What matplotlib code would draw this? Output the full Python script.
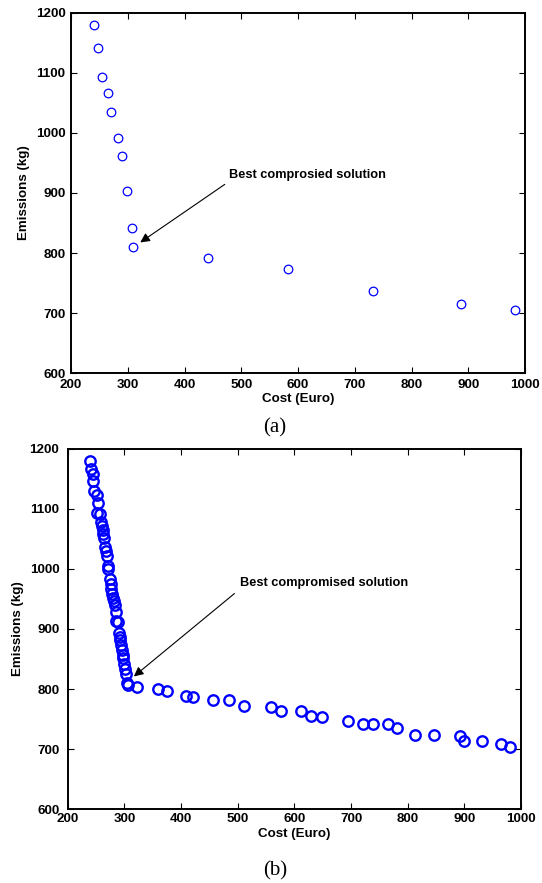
import matplotlib
matplotlib.use("Agg")
import matplotlib.pyplot as plt

# ---------------- data ----------------
cost_a = [241, 248, 255, 265, 270, 282, 289, 299, 307, 309, 442, 582, 733, 888, 982]
emis_a = [1180, 1142, 1094, 1067, 1035, 992, 962, 903, 841, 810, 792, 773, 736, 715, 705]

cost_b = [240, 242, 244, 245, 247, 251, 253, 252, 257, 259, 260, 262, 263, 264, 266,
          267, 269, 271, 272, 275, 276, 277, 278, 280, 282, 284, 285, 285, 288, 291,
          292, 293, 294, 295, 297, 298, 300, 301, 303, 304, 307,
          323, 360, 376, 409, 421, 457, 485, 511, 559, 576, 612, 629, 648, 694,
          721, 738, 765, 782, 813, 846, 892, 900, 932, 964, 980]
emis_b = [1180, 1166, 1159, 1146, 1130, 1123, 1110, 1093, 1091, 1079, 1072, 1065, 1058, 1051, 1036,
          1030, 1022, 1005, 1000, 983, 975, 966, 958, 951, 946, 940, 929, 914, 911, 893,
          887, 881, 873, 865, 857, 851, 842, 833, 825, 810, 807,
          803, 800, 797, 788, 786, 782, 781, 772, 770, 763, 763, 755, 753, 746,
          742, 741, 741, 735, 723, 723, 721, 714, 713, 709, 703]

x_ticks = [200, 300, 400, 500, 600, 700, 800, 900, 1000]
y_ticks = [600, 700, 800, 900, 1000, 1100, 1200]

label_a = "Best comprosied solution"
label_b = "Best compromised solution"
xlabel = "Cost (Euro)"
ylabel = "Emissions (kg)"

# ---------------- figure ----------------
W, H = 542, 883
fig = plt.figure(figsize=(W / 100, H / 100), dpi=100)
fig.patch.set_facecolor("white")

sans = ["Liberation Sans", "DejaVu Sans"]
serif = ["Liberation Serif", "DejaVu Serif"]


def px_axes(l, r, t, b):
    return [l / W, (H - b) / H, (r - l) / W, (b - t) / H]


def style(ax, xpad, ypad):
    ax.set_xlim(200, 1000)
    ax.set_ylim(600, 1200)
    ax.set_xticks(x_ticks)
    ax.set_yticks(y_ticks)
    ax.tick_params(direction="in", length=4, width=0.8, top=True, right=True,
                   labelsize=9.6, colors="black")
    ax.tick_params(axis="x", pad=xpad)
    ax.tick_params(axis="y", pad=ypad)
    for lab in ax.get_xticklabels() + ax.get_yticklabels():
        lab.set_fontweight("bold")
        lab.set_family(sans)
    for s in ax.spines.values():
        s.set_linewidth(1.4)
        s.set_color("black")
    ax.set_xlabel(xlabel, fontsize=9.6, fontweight="bold", family=sans, labelpad=2)
    ax.set_ylabel(ylabel, fontsize=9.6, fontweight="bold", family=sans, labelpad=4)


# ---- panel (a) ----
ax1 = fig.add_axes(px_axes(71, 525, 13, 373))
ax1.plot(cost_a, emis_a, linestyle="none", marker="o", markersize=6.2,
         markerfacecolor="none", markeredgecolor="#0000FF", markeredgewidth=0.9)
style(ax1, 4, 4)
ax1.annotate("", xy=(318, 815), xytext=(475, 917),
             arrowprops=dict(arrowstyle="-|>", lw=0.8, color="black", mutation_scale=14))
ax1.text(478, 930, label_a, fontsize=9.2, fontweight="bold", family=sans,
         va="center", ha="left")

# ---- panel (b) ----
ax2 = fig.add_axes(px_axes(67.7, 521, 449, 809))
ax2.plot(cost_b, emis_b, linestyle="none", marker="o", markersize=7.5,
         markerfacecolor="none", markeredgecolor="#0000FF", markeredgewidth=1.7)
style(ax2, 3, 6)
ax2.annotate("", xy=(313, 818), xytext=(498, 962),
             arrowprops=dict(arrowstyle="-|>", lw=0.8, color="black", mutation_scale=14))
ax2.text(504, 977, label_b, fontsize=9.2, fontweight="bold", family=sans,
         va="center", ha="left")

# ---- panel captions ----
fig.text(275 / W, 1 - 428 / H, "(a)", fontsize=15, family=serif, ha="center", va="center")
fig.text(275 / W, 1 - 871 / H, "(b)", fontsize=15, family=serif, ha="center", va="center")

fig.savefig("out.png", dpi=100, facecolor="white")
